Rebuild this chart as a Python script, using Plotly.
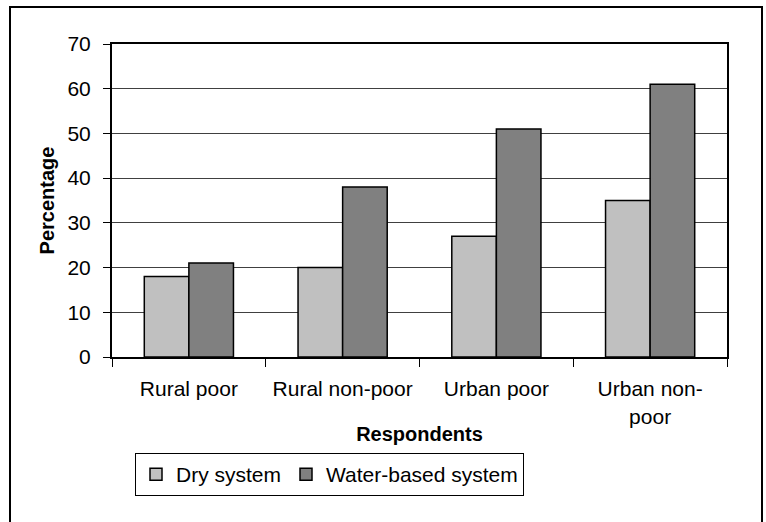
import plotly.graph_objects as go

# Share of respondents by group and sanitation system type
categories = ["Rural poor", "Rural non-poor", "Urban poor", "Urban non-<br>poor"]
dry_system = [18, 20, 27, 35]
water_based_system = [21, 38, 51, 61]
y_ticks = [0, 10, 20, 30, 40, 50, 60, 70]

FONT = "Liberation Sans, Arial, sans-serif"

fig = go.Figure()
fig.add_trace(go.Bar(
    name="Dry system", x=categories, y=dry_system,
    marker=dict(color="#C0C0C0", line=dict(color="black", width=1.5)),
))
fig.add_trace(go.Bar(
    name="Water-based system", x=categories, y=water_based_system,
    marker=dict(color="#808080", line=dict(color="black", width=1.5)),
))

# plot area in pixels: left 112, right 727, top 44, bottom 357
L, R, T, B = 112, 727, 44, 357
W, H = 766, 522
pw, ph = R - L, B - T

def px_x(v):
    return (v - L) / pw

def px_y(v):
    return (B - v) / ph

fig.update_layout(
    width=W, height=H,
    margin=dict(l=L, r=W - R, t=T, b=H - B, pad=0),
    paper_bgcolor="white", plot_bgcolor="white",
    barmode="group", bargap=0.42, bargroupgap=0,
    font=dict(family=FONT, size=21, color="black"),
    showlegend=True,
    legend=dict(
        orientation="h", x=px_x(135), y=px_y(453),
        xanchor="left", yanchor="top",
        bordercolor="black", borderwidth=1,
        font=dict(size=21), itemwidth=30, traceorder="normal",
    ),
    xaxis=dict(
        showline=True, linecolor="black", linewidth=2, mirror=True,
        ticks="outside", tickson="boundaries", ticklen=8, tickcolor="black", tickwidth=1,
        ticklabelstandoff=12,
        showgrid=False,
        title=dict(text="<b>Respondents</b>", font=dict(size=20), standoff=0),
    ),
    yaxis=dict(
        range=[0, 70], tickvals=y_ticks,
        showline=True, linecolor="black", linewidth=2, mirror=True,
        ticks="outside", ticklen=7, tickcolor="black", tickwidth=1,
        ticklabelstandoff=8,
        showgrid=True, gridcolor="#404040", gridwidth=1,
        zeroline=False,
        title=dict(text="<b>Percentage</b>", font=dict(size=20), standoff=7),
    ),
    shapes=[dict(
        type="rect", xref="paper", yref="paper",
        x0=px_x(10), x1=px_x(762), y0=px_y(540), y1=px_y(7),
        line=dict(color="black", width=2), layer="below",
    )],
)

fig.write_html("out.html")
